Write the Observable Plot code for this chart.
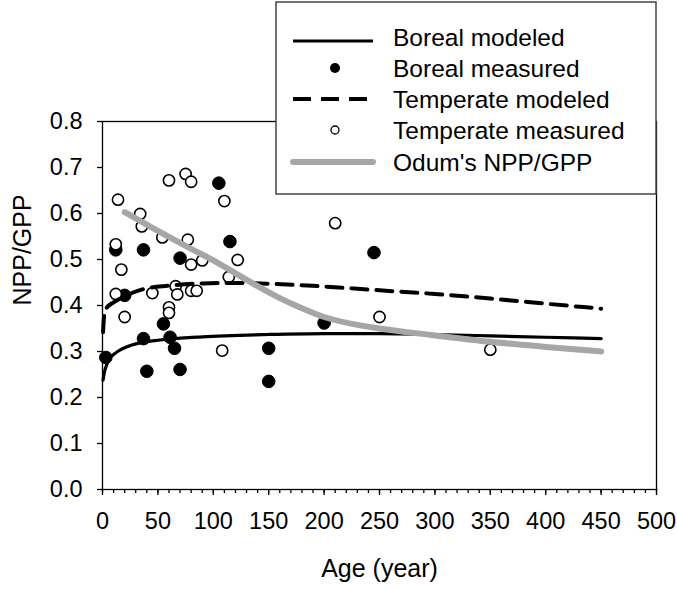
<!DOCTYPE html>
<html>
<head>
<meta charset="utf-8">
<script src="https://cdn.jsdelivr.net/npm/d3@7"></script>
<script src="https://cdn.jsdelivr.net/npm/@observablehq/plot@0.6"></script>
<style>
  html, body { margin: 0; padding: 0; background: white; }
  #chart { width: 677px; height: 589px; }
</style>
</head>
<body>
<div id="chart"></div>
<script>
// ---- Data ----
const xTicks = [0, 50, 100, 150, 200, 250, 300, 350, 400, 450, 500];
const xMinorTicks = d3.range(0, 501, 10);
const yTicks = [0, 0.1, 0.2, 0.3, 0.4, 0.5, 0.6, 0.7, 0.8];

const borealAge = [3, 12, 20, 37, 37, 40, 55, 61, 65, 70, 70, 105, 115, 150, 150, 200, 245];
const borealNPP = [0.287, 0.521, 0.422, 0.521, 0.328, 0.257, 0.360, 0.331, 0.307, 0.503, 0.261, 0.666, 0.539, 0.307, 0.235, 0.362, 0.515];

const tempAge = [14, 60, 75, 80, 34, 35.5, 12, 54, 77, 80, 17, 12, 45, 66, 67.5, 80, 85, 20, 60, 60, 110, 122, 90, 114, 108, 210, 250, 350];
const tempNPP = [0.630, 0.672, 0.686, 0.669, 0.599, 0.572, 0.533, 0.548, 0.543, 0.489, 0.478, 0.425, 0.427, 0.442, 0.424, 0.432, 0.432, 0.375, 0.396, 0.384, 0.627, 0.499, 0.498, 0.462, 0.302, 0.579, 0.375, 0.304];

const borealModAge = [0.5, 2, 3, 6, 12, 24, 40, 60, 90, 150, 200, 250, 300, 350, 400, 450];
const borealModNPP = [0.238, 0.258, 0.266, 0.283, 0.297, 0.312, 0.321, 0.327, 0.332, 0.337, 0.339, 0.339, 0.337, 0.334, 0.331, 0.328];

const tempModAge = [0.5, 1.5, 4, 9, 20, 36, 60, 90, 120, 180, 250, 300, 350, 400, 450];
const tempModNPP = [0.342, 0.378, 0.396, 0.405, 0.420, 0.435, 0.443, 0.448, 0.449, 0.444, 0.433, 0.425, 0.415, 0.404, 0.393];

const odumAge = [20, 50, 80, 100, 120, 140, 160, 180, 200, 225, 250, 300, 350, 400, 450];
const odumNPP = [0.603, 0.562, 0.523, 0.498, 0.470, 0.442, 0.416, 0.394, 0.375, 0.360, 0.350, 0.335, 0.321, 0.310, 0.300];

const legendLabels = ["Boreal modeled", "Boreal measured", "Temperate modeled", "Temperate measured", "Odum's NPP/GPP"];

// ---- Build tables ----
const zip = (xs, ys) => xs.map((x, i) => ({x, y: ys[i]}));
const boreal = zip(borealAge, borealNPP);
const temperate = zip(tempAge, tempNPP);
const borealMod = zip(borealModAge, borealModNPP);
const tempMod = zip(tempModAge, tempModNPP);
const odum = zip(odumAge, odumNPP);

const FONT = "'Liberation Sans', Arial, sans-serif";
const GRAY = "#a6a6a6";

const chart = Plot.plot({
  width: 677,
  height: 589,
  marginLeft: 102,
  marginRight: 21,
  marginTop: 121,
  marginBottom: 100,
  style: {fontFamily: FONT, fontSize: "23.5px", background: "white", color: "black", overflow: "visible"},
  x: {domain: [0, 500]},
  y: {domain: [0, 0.8]},
  marks: [
    Plot.axisX({ticks: xMinorTicks, tickSize: 4, tickFormat: () => "", label: null, strokeWidth: 1.3}),
    Plot.axisX({ticks: xTicks, tickSize: 6, tickPadding: 17, label: null, strokeWidth: 1.3, fontSize: 23.5}),
    Plot.axisY({ticks: yTicks, tickSize: 5, tickPadding: 15, tickFormat: d3.format(".1f"), label: null, strokeWidth: 1.3, fontSize: 23.5}),
    Plot.text(["Age (year)"], {frameAnchor: "bottom", dy: 79, lineAnchor: "middle", fontSize: 25}),
    Plot.text(["NPP/GPP"], {frameAnchor: "left", dx: -80, rotate: -90, lineAnchor: "middle", fontSize: 25}),
    Plot.dot(boreal, {x: "x", y: "y", r: 6.3, fill: "black", stroke: "black", strokeWidth: 1}),
    Plot.dot(temperate, {x: "x", y: "y", r: 5.6, fill: "white", stroke: "black", strokeWidth: 1.6}),
    Plot.line(borealMod, {x: "x", y: "y", stroke: "black", strokeWidth: 3.2, curve: "monotone-x"}),
    Plot.line(tempMod, {x: "x", y: "y", stroke: "black", strokeWidth: 4, strokeDasharray: "16,9", curve: "monotone-x"}),
    Plot.line(odum, {x: "x", y: "y", stroke: GRAY, strokeWidth: 6, curve: "monotone-x", strokeLinecap: "round"}),
    Plot.frame({stroke: "black", strokeWidth: 1.3})
  ]
});

document.getElementById("chart").appendChild(chart);

// ---- Legend (overlaid box, top right) ----
const svg = d3.select(chart);
const lg = svg.append("g").attr("font-family", FONT).attr("font-size", 24.5).attr("text-anchor", "start");
lg.append("rect").attr("x", 276).attr("y", 2).attr("width", 380).attr("height", 192)
  .attr("fill", "white").attr("stroke", "#444").attr("stroke-width", 1.5);
const rowY = [37, 68, 99, 130, 162];
const sx0 = 293, sx1 = 373, sxm = 335;
// symbols
lg.append("line").attr("x1", sx0).attr("x2", sx1).attr("y1", rowY[0] + 4).attr("y2", rowY[0] + 4)
  .attr("stroke", "black").attr("stroke-width", 3);
lg.append("circle").attr("cx", sxm).attr("cy", rowY[1]).attr("r", 5).attr("fill", "black");
lg.append("line").attr("x1", sx0).attr("x2", sx1).attr("y1", rowY[2]).attr("y2", rowY[2])
  .attr("stroke", "black").attr("stroke-width", 4).attr("stroke-dasharray", "18,10");
lg.append("circle").attr("cx", sxm).attr("cy", rowY[3]).attr("r", 4).attr("fill", "white").attr("stroke", "black").attr("stroke-width", 1.3);
lg.append("line").attr("x1", sx0).attr("x2", sx1).attr("y1", rowY[4]).attr("y2", rowY[4])
  .attr("stroke", GRAY).attr("stroke-width", 6).attr("stroke-linecap", "round");
// labels
legendLabels.forEach((t, i) => {
  lg.append("text").attr("x", 393).attr("y", rowY[i]).attr("dy", "0.35em").attr("text-anchor", "start").attr("fill", "black").text(t);
});
</script>
</body>
</html>
